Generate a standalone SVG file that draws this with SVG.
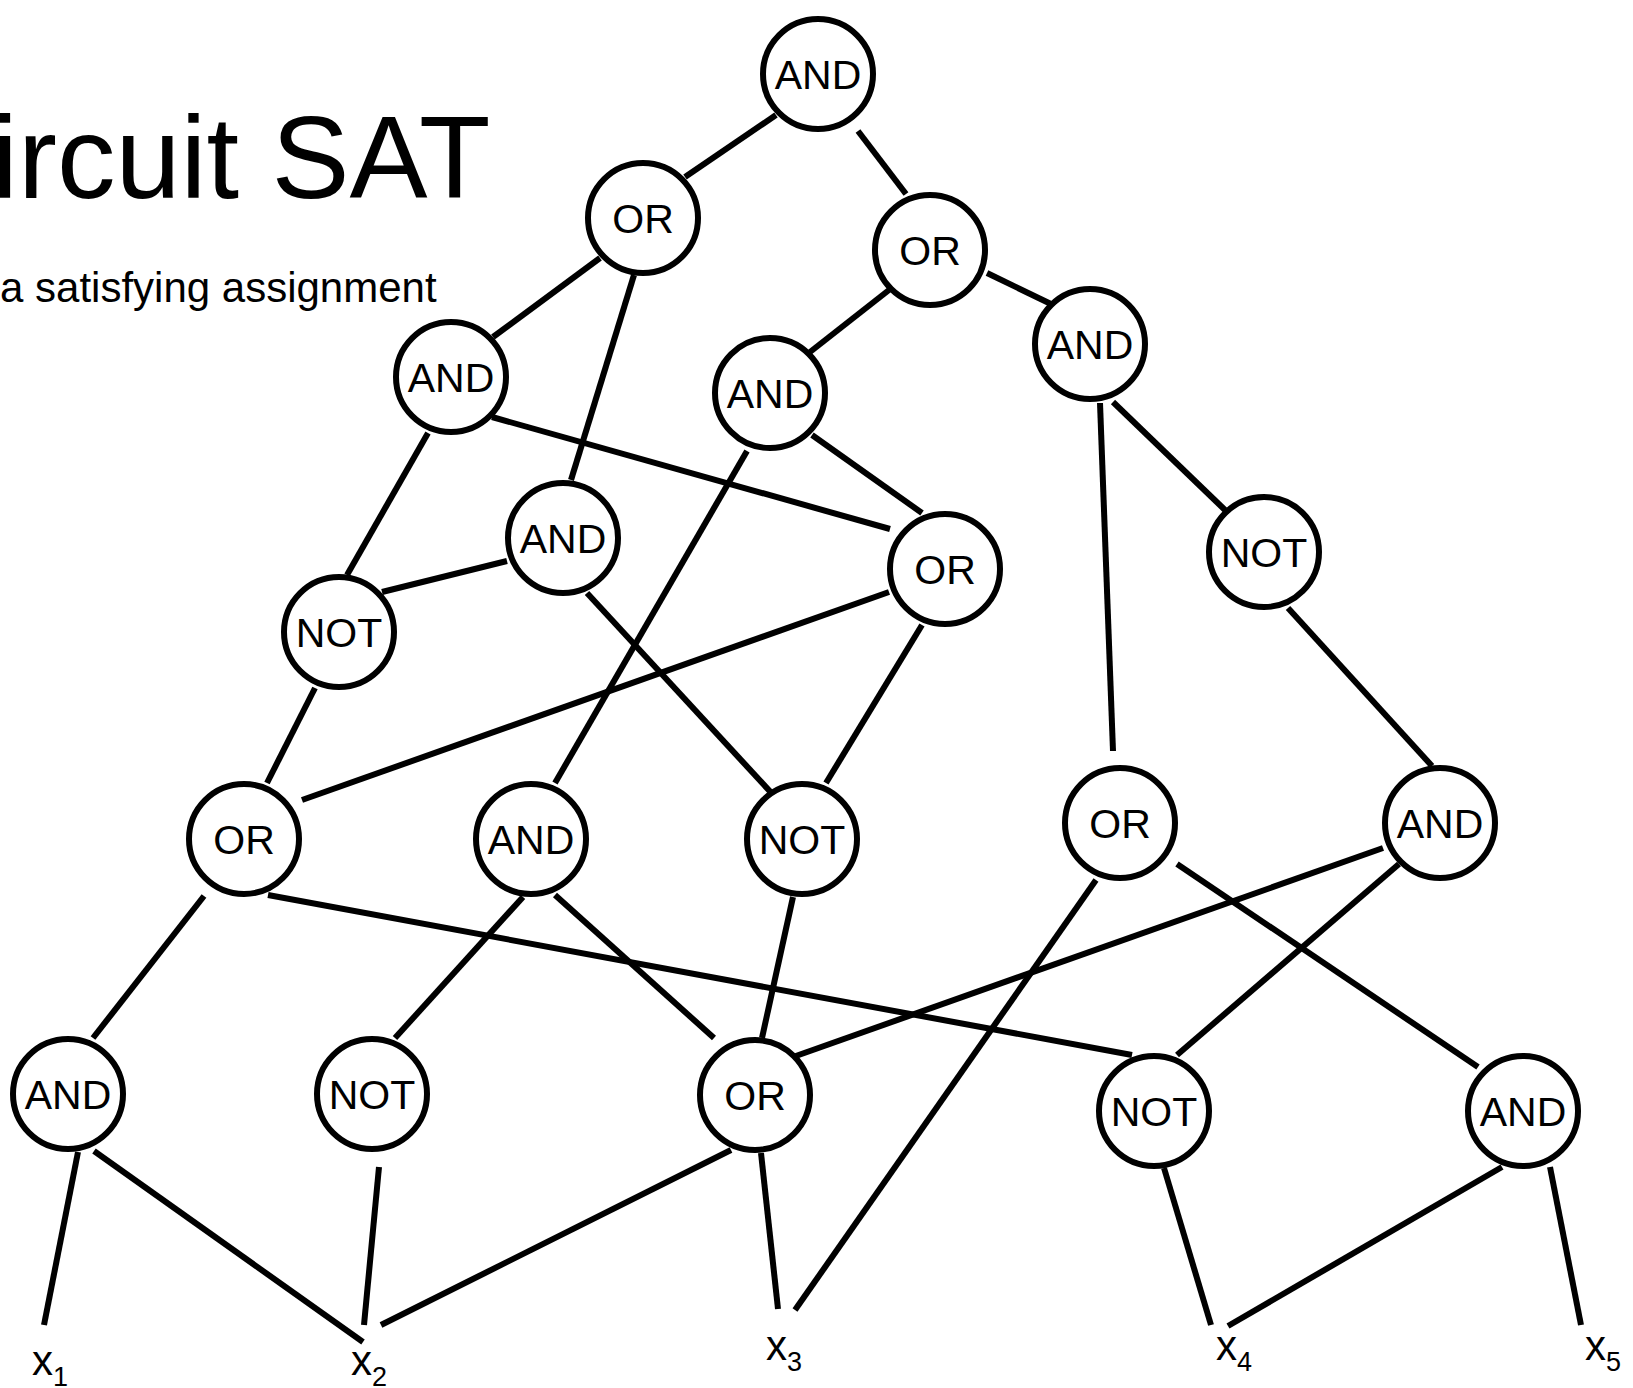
<svg xmlns="http://www.w3.org/2000/svg" width="1633" height="1388" viewBox="0 0 1633 1388">
<style>
.n circle{fill:#fff;stroke:#000;stroke-width:6}
.n text{font-family:"Liberation Sans",Arial,sans-serif;font-size:41px;text-anchor:middle;fill:#000}
#edges line{stroke:#000;stroke-width:6;stroke-linecap:butt}
.v{font-family:"Liberation Sans",Arial,sans-serif;font-size:42px;fill:#000}
.v tspan.s{font-size:27px}
.t{font-family:"Liberation Sans",Arial,sans-serif;fill:#000}
</style>
<rect width="1633" height="1388" fill="#fff"/>
<text class="t" x="-8" y="198" font-size="117">ircuit SAT</text>
<text class="t" x="0" y="302" font-size="42">a satisfying assignment</text>
<g id="edges">
<line x1="776" y1="115" x2="685" y2="177"/>
<line x1="858" y1="131" x2="906" y2="194"/>
<line x1="600" y1="258" x2="493" y2="337"/>
<line x1="634" y1="275" x2="571" y2="480"/>
<line x1="889" y1="290" x2="810" y2="352"/>
<line x1="987" y1="273" x2="1051" y2="304"/>
<line x1="492" y1="417" x2="890" y2="529"/>
<line x1="428" y1="433" x2="347" y2="575"/>
<line x1="812" y1="435" x2="922" y2="513"/>
<line x1="747" y1="451" x2="555" y2="783"/>
<line x1="1100" y1="403" x2="1113" y2="751"/>
<line x1="1113" y1="402" x2="1225" y2="510"/>
<line x1="507" y1="561" x2="382" y2="592"/>
<line x1="587" y1="593" x2="777" y2="799"/>
<line x1="889" y1="592" x2="302" y2="800"/>
<line x1="922" y1="625" x2="826" y2="783"/>
<line x1="1288" y1="608" x2="1432" y2="766"/>
<line x1="315" y1="688" x2="267" y2="783"/>
<line x1="204" y1="896" x2="93" y2="1038"/>
<line x1="268" y1="895" x2="1132" y2="1055"/>
<line x1="523" y1="897" x2="395" y2="1038"/>
<line x1="555" y1="895" x2="714" y2="1038"/>
<line x1="793" y1="897" x2="762" y2="1038"/>
<line x1="1096" y1="880" x2="795" y2="1310"/>
<line x1="1177" y1="864" x2="1478" y2="1067"/>
<line x1="1383" y1="848" x2="793" y2="1057"/>
<line x1="1399" y1="864" x2="1177" y2="1055"/>
<line x1="78" y1="1152" x2="44" y2="1325"/>
<line x1="94" y1="1151" x2="363" y2="1342"/>
<line x1="379" y1="1167" x2="364" y2="1325"/>
<line x1="731" y1="1150" x2="381" y2="1325"/>
<line x1="761" y1="1153" x2="778" y2="1309"/>
<line x1="1164" y1="1168" x2="1211" y2="1325"/>
<line x1="1502" y1="1167" x2="1228" y2="1326"/>
<line x1="1550" y1="1167" x2="1581" y2="1325"/>
</g>
<g id="n1" class="n"><circle cx="818" cy="74" r="55"/><text x="818" y="89">AND</text></g>
<g id="n2" class="n"><circle cx="643" cy="218" r="55"/><text x="643" y="233">OR</text></g>
<g id="n3" class="n"><circle cx="930" cy="250" r="55"/><text x="930" y="265">OR</text></g>
<g id="n4" class="n"><circle cx="451" cy="377" r="55"/><text x="451" y="392">AND</text></g>
<g id="n5" class="n"><circle cx="770" cy="393" r="55"/><text x="770" y="408">AND</text></g>
<g id="n6" class="n"><circle cx="1090" cy="344" r="55"/><text x="1090" y="359">AND</text></g>
<g id="n7" class="n"><circle cx="563" cy="538" r="55"/><text x="563" y="553">AND</text></g>
<g id="n8" class="n"><circle cx="945" cy="569" r="55"/><text x="945" y="584">OR</text></g>
<g id="n9" class="n"><circle cx="1264" cy="552" r="55"/><text x="1264" y="567">NOT</text></g>
<g id="n10" class="n"><circle cx="339" cy="632" r="55"/><text x="339" y="647">NOT</text></g>
<g id="n11" class="n"><circle cx="244" cy="839" r="55"/><text x="244" y="854">OR</text></g>
<g id="n12" class="n"><circle cx="531" cy="839" r="55"/><text x="531" y="854">AND</text></g>
<g id="n13" class="n"><circle cx="802" cy="839" r="55"/><text x="802" y="854">NOT</text></g>
<g id="n14" class="n"><circle cx="1120" cy="823" r="55"/><text x="1120" y="838">OR</text></g>
<g id="n15" class="n"><circle cx="1440" cy="823" r="55"/><text x="1440" y="838">AND</text></g>
<g id="n16" class="n"><circle cx="68" cy="1094" r="55"/><text x="68" y="1109">AND</text></g>
<g id="n17" class="n"><circle cx="372" cy="1094" r="55"/><text x="372" y="1109">NOT</text></g>
<g id="n18" class="n"><circle cx="755" cy="1095" r="55"/><text x="755" y="1110">OR</text></g>
<g id="n19" class="n"><circle cx="1154" cy="1111" r="55"/><text x="1154" y="1126">NOT</text></g>
<g id="n20" class="n"><circle cx="1523" cy="1111" r="55"/><text x="1523" y="1126">AND</text></g>
<g id="x1"><text class="v" x="32" y="1375">x<tspan class="s" dy="11">1</tspan></text></g>
<g id="x2"><text class="v" x="351" y="1375">x<tspan class="s" dy="11">2</tspan></text></g>
<g id="x3"><text class="v" x="766" y="1360">x<tspan class="s" dy="11">3</tspan></text></g>
<g id="x4"><text class="v" x="1216" y="1360">x<tspan class="s" dy="11">4</tspan></text></g>
<g id="x5"><text class="v" x="1585" y="1360">x<tspan class="s" dy="11">5</tspan></text></g>
</svg>
